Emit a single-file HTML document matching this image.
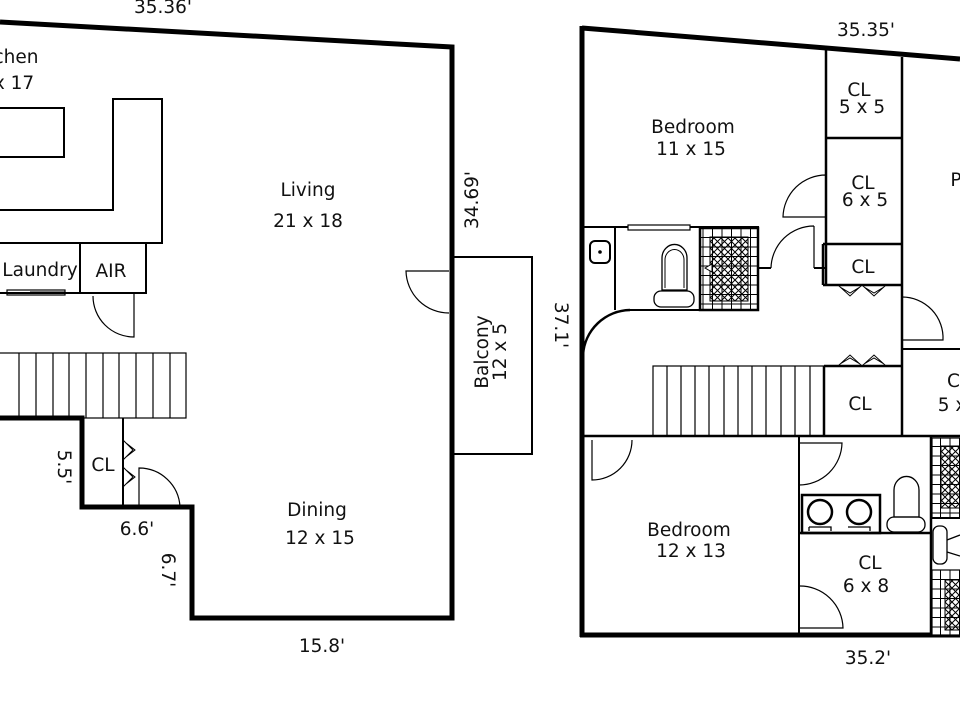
<!DOCTYPE html>
<html><head><meta charset="utf-8"><style>
html,body{margin:0;padding:0;background:#fff;}
svg{display:block;}
text{font-family:"DejaVu Sans","Liberation Sans",sans-serif;font-size:18.5px;fill:#111;text-anchor:middle;}
</style></head><body>
<svg width="960" height="720" viewBox="0 0 960 720" xmlns="http://www.w3.org/2000/svg">
<defs>
<pattern id="xh" width="7" height="7" patternUnits="userSpaceOnUse">
<path d="M0 0L7 7M7 0L0 7" stroke="#000" stroke-width="1"/>
</pattern>
<pattern id="tile" width="9.5" height="9.5" patternUnits="userSpaceOnUse">
<rect width="9.5" height="9.5" fill="#fff" stroke="#000" stroke-width="1"/>
</pattern>
</defs>
<g fill="none" stroke="#000">
<path d="M0 22 L452 47 L452 618 L192 618 L192 507 L82 507 L82 418 L0 418" stroke-width="5"/>
<rect x="-5" y="108" width="69" height="49" stroke-width="2"/>
<path d="M0 210 L113 210 L113 99 L162 99 L162 243 L0 243" stroke-width="2"/>
<path d="M80 243 L80 293 M0 293 L146 293 L146 243" stroke-width="2"/>
<rect x="7" y="290" width="58" height="5" stroke-width="1.2"/>
<path d="M30 292 L65 292" stroke-width="1"/>
<path d="M134 294 L134 337 A41 41 0 0 1 93 296" stroke-width="1.2"/>
<rect x="-2" y="353" width="188" height="65" stroke-width="1.2"/>
<path d="M19 353V418M36 353V418M53 353V418M69 353V418M86 353V418M103 353V418M119 353V418M136 353V418M153 353V418M170 353V418" stroke-width="1.2"/>
<path d="M123 418 L123 507" stroke-width="2"/>
<path d="M123 440 L133 450 L123 460 M126 443 L135 450 L126 457 M123 467 L133 477 L123 487 M126 470 L135 477 L126 484" stroke-width="1"/>
<path d="M139 507 L139 468 A41 41 0 0 1 180 507" stroke-width="1.2"/>
<rect x="452" y="257" width="80" height="197" stroke-width="2"/>
<path d="M449 271 L406 271 A43 43 0 0 0 449 313" stroke-width="1.2"/>

<path d="M582 28 L960 59 M582 26 L582 637 M580 635 L960 635" stroke-width="5"/>
<path d="M582 436 L960 436" stroke-width="2.5"/>
<path d="M826 50 L826 285 M902 57 L902 436 M826 138 L902 138 M823 244 L902 244 M823 285 L902 285 L902 244 M823 244 L823 285" stroke-width="2.5"/>
<path d="M838 285 L850 296 L862 285 L874 296 L886 285 M840 287 L850 293 L860 287 M864 287 L874 293 L884 287" stroke-width="1"/>
<path d="M826 175 L826 217 L783 217 A43 43 0 0 1 826 175" stroke-width="1.2"/>
<path d="M814 226 L814 268 M814 226 A43 43 0 0 0 771 268" stroke-width="1.2"/>
<path d="M756 268 L771 268 M814 268 L826 268" stroke-width="2"/>
<path d="M582 227 L700 227 M615 227 L615 310 M630 310 L758 310 L758 227 L700 227" stroke-width="2"/>
<path d="M630 310 A48 48 0 0 0 583 355" stroke-width="2.5"/>
<rect x="700" y="228" width="58" height="82" fill="url(#tile)" stroke-width="2.5"/>
<rect x="710" y="237" width="38" height="64" fill="url(#xh)" stroke-width="1"/>
<path d="M705 268 L712 264 L712 272 Z" stroke-width="1" fill="#fff"/>
<rect x="628" y="225" width="62" height="5" stroke-width="1.2" fill="#fff"/>
<rect x="590" y="241" width="20" height="22" rx="5" stroke-width="2"/>
<circle cx="600" cy="252" r="1.3" fill="#000"/>
<path d="M662 290 L662 258 A12 13 0 0 1 687 258 L687 290 Z" stroke-width="1.3"/>
<path d="M665 288 L665 260 A9 10 0 0 1 684 260 L684 288" stroke-width="1"/>
<rect x="654" y="291" width="40" height="16" rx="7" stroke-width="1.3"/>
<rect x="653" y="366" width="171" height="70" stroke-width="1.2"/>
<path d="M667 366V436M681 366V436M695 366V436M709 366V436M724 366V436M738 366V436M752 366V436M766 366V436M781 366V436M795 366V436M810 366V436" stroke-width="1.2"/>
<path d="M824 366 L902 366 M824 366 L824 436" stroke-width="2.5"/>
<path d="M838 366 L850 355 L862 366 L874 355 L886 366 M840 364 L850 358 L860 364 M864 364 L874 358 L884 364" stroke-width="1"/>
<path d="M902 297 A41 41 0 0 1 943 340 L902 340" stroke-width="1.2"/>
<path d="M902 349 L960 349" stroke-width="2"/>
<path d="M592 440 L592 480 A40 40 0 0 0 632 440" stroke-width="1.2"/>
<path d="M799 436 L799 635" stroke-width="2"/>
<path d="M799 485 A43 43 0 0 0 842 443 L799 443" stroke-width="1.2"/>
<path d="M799 533 L932 533 M931 436 L931 635" stroke-width="2.5"/>
<rect x="802" y="495" width="78" height="38" stroke-width="2.5"/>
<ellipse cx="820" cy="512" rx="12" ry="12" stroke-width="2.5"/>
<ellipse cx="859" cy="512" rx="12" ry="12" stroke-width="2.5"/>
<path d="M809 527 L831 527 L831 531 M848 527 L870 527 L870 531 M809 527 L809 531" stroke-width="1.3"/>
<path d="M894 517 L894 490 A12 13 0 0 1 919 490 L919 517 Z" stroke-width="1.3"/>
<rect x="887" y="517" width="38" height="15" rx="7" stroke-width="1.3"/>
<path d="M799 628 L799 586 A43 43 0 0 1 843 628 Z" stroke-width="1.2"/>
<rect x="932" y="438" width="30" height="80" fill="url(#tile)" stroke-width="1.2"/>
<rect x="941" y="446" width="22" height="62" fill="url(#xh)" stroke-width="1"/>
<path d="M931 518 L960 518" stroke-width="2"/>
<rect x="933" y="526" width="14" height="38" rx="6" stroke-width="1.3"/>
<path d="M947 540 L960 535 M947 552 L960 556" stroke-width="1.3"/>
<rect x="932" y="570" width="30" height="65" fill="url(#tile)" stroke-width="1.2"/>
<rect x="945" y="580" width="17" height="50" fill="url(#xh)" stroke-width="1"/>
</g>
<text x="163" y="13">35.36'</text>
<text x="16" y="63">chen</text>
<text x="14" y="89">x 17</text>
<text x="40" y="276">Laundry</text>
<text x="111" y="277">AIR</text>
<text x="308" y="196">Living</text>
<text x="308" y="227">21 x 18</text>
<text x="103" y="471">CL</text>
<text x="317" y="516">Dining</text>
<text x="320" y="544">12 x 15</text>
<text x="137" y="535">6.6'</text>
<text x="322" y="652">15.8'</text>
<text transform="translate(478,200) rotate(-90)">34.69'</text>
<text transform="translate(488,352) rotate(-90)">Balcony</text>
<text transform="translate(506,352) rotate(-90)">12 x 5</text>
<text transform="translate(58,467) rotate(90)">5.5'</text>
<text transform="translate(162,570) rotate(90)">6.7'</text>
<text x="866" y="36">35.35'</text>
<text x="693" y="133">Bedroom</text>
<text x="691" y="155">11 x 15</text>
<text x="859" y="96">CL</text>
<text x="862" y="113">5 x 5</text>
<text x="863" y="189">CL</text>
<text x="865" y="206">6 x 5</text>
<text x="863" y="273">CL</text>
<text x="860" y="410">CL</text>
<text x="956" y="186">P</text>
<text x="956" y="387">Cl</text>
<text x="952" y="411">5 x</text>
<text x="689" y="536">Bedroom</text>
<text x="691" y="557">12 x 13</text>
<text x="870" y="569">CL</text>
<text x="866" y="592">6 x 8</text>
<text x="868" y="664">35.2'</text>
<text transform="translate(555,325) rotate(90)">37.1'</text>
</svg>
</body></html>
